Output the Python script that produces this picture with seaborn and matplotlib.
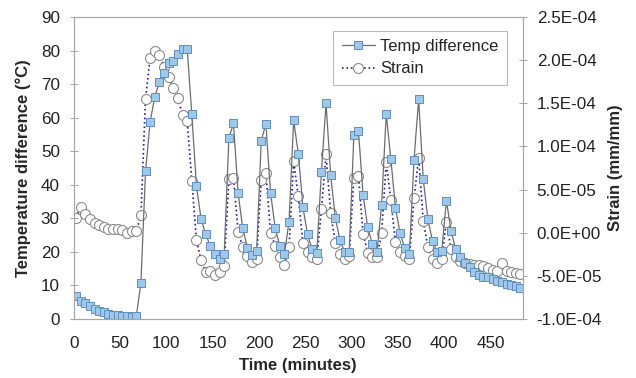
import numpy as np
import pandas as pd
import matplotlib
matplotlib.use("Agg")
import matplotlib.pyplot as plt
import seaborn as sns
from matplotlib.ticker import FuncFormatter

# Readings taken every 5 minutes
time_min = [
    2.5, 7.5, 12.5, 17.5, 22.5, 27.5, 32.5, 37.5, 42.5, 47.5,
    52.5, 57.5, 62.5, 67.5, 72.5, 77.5, 82.5, 87.5, 92.5, 97.5,
    102.5, 107.5, 112.5, 117.5, 122.5, 127.5, 132.5, 137.5, 142.5, 147.5,
    152.5, 157.5, 162.5, 167.5, 172.5, 177.5, 182.5, 187.5, 192.5, 197.5,
    202.5, 207.5, 212.5, 217.5, 222.5, 227.5, 232.5, 237.5, 242.5, 247.5,
    252.5, 257.5, 262.5, 267.5, 272.5, 277.5, 282.5, 287.5, 292.5, 297.5,
    302.5, 307.5, 312.5, 317.5, 322.5, 327.5, 332.5, 337.5, 342.5, 347.5,
    352.5, 357.5, 362.5, 367.5, 372.5, 377.5, 382.5, 387.5, 392.5, 397.5,
    402.5, 407.5, 412.5, 417.5, 422.5, 427.5, 432.5, 437.5, 442.5, 447.5,
    452.5, 457.5, 462.5, 467.5, 472.5, 477.5, 482.5,
]

# Temperature difference (deg C)
temp_diff = [
    6.9, 5.5, 4.7, 3.8, 3.0, 2.3, 2.0, 1.5, 1.2, 1.2,
    1.0, 0.8, 0.7, 0.8, 10.7, 44.0, 58.8, 66.2, 70.7, 73.4,
    76.4, 76.9, 78.9, 80.5, 80.5, 61.0, 39.6, 29.9, 25.2, 21.8,
    19.3, 17.8, 19.4, 53.8, 58.3, 37.5, 27.1, 21.2, 19.2, 20.2,
    53.2, 58.2, 37.7, 27.2, 21.8, 19.3, 29.0, 59.2, 49.3, 33.4,
    25.2, 20.8, 19.6, 43.9, 64.3, 42.8, 30.2, 23.5, 20.1, 20.0,
    54.7, 56.0, 37.0, 27.3, 22.4, 19.9, 34.0, 61.1, 47.6, 33.0,
    25.5, 21.2, 19.3, 47.4, 65.5, 41.6, 29.7, 23.2, 20.1, 20.4,
    35.3, 26.2, 20.9, 18.4, 16.8, 15.4, 13.9, 13.2, 12.6, 12.4,
    11.9, 11.4, 11.0, 10.4, 10.1, 9.8, 9.1,
]

# Strain (x1e-5 mm/mm)
strain_e5 = [
    1.74, 3.0, 2.17, 1.59, 1.16, 0.86, 0.66, 0.43, 0.45, 0.4,
    0.35, 0.0, 0.2, 0.2, 2.0, 15.5, 20.3, 21.1, 20.6, 19.2,
    18.0, 16.8, 15.6, 13.6, 12.9, 6.0, -0.84, -3.2, -4.6, -4.4,
    -4.9, -4.6, -3.9, 6.2, 6.4, 0.08, -1.7, -2.7, -3.4, -3.0,
    6.1, 6.9, 0.0, -1.5, -2.8, -3.7, -1.7, 8.3, 4.2, -1.2,
    -2.2, -2.8, -3.0, 2.7, 9.1, 2.25, -1.2, -2.5, -3.0, -2.7,
    6.4, 6.6, -0.15, -2.3, -2.8, -2.8, -0.07, 8.2, 3.8, -1.1,
    -2.2, -2.7, -3.0, 4.0, 8.7, 1.4, -1.7, -3.0, -3.5, -3.0,
    1.3, -1.9, -2.85, -3.3, -3.55, -3.65, -3.7, -3.7, -3.8, -4.1,
    -4.3, -4.4, -3.55, -4.4, -4.6, -4.7, -4.8,
]

df = pd.DataFrame({
    "time": time_min,
    "temp": temp_diff,
    "strain": np.array(strain_e5) * 1e-5,
})

sns.set_style("white")
plt.rcParams["font.family"] = ["Liberation Sans", "DejaVu Sans"]

fig = plt.figure(figsize=(6.36, 3.78), dpi=100)
ax = fig.add_axes([0.116, 0.156, 0.706, 0.799])
ax2 = ax.twinx()
# temperature squares sit on top of the strain circles
ax.set_zorder(ax2.get_zorder() + 1)
ax.patch.set_visible(False)

sns.lineplot(data=df, x="time", y="temp", ax=ax, color="#6d6d6d", linewidth=0.9,
             marker="s", markersize=5.5, markerfacecolor="#9dc8ea",
             markeredgecolor="#5f8fbf", markeredgewidth=0.7,
             label="Temp difference", legend=False)
sns.lineplot(data=df, x="time", y="strain", ax=ax2, color="#1f1fa0", linewidth=1.2,
             linestyle=":", marker="o", markersize=7.2, markerfacecolor="white",
             markeredgecolor="#8a8a8a", markeredgewidth=0.8,
             label="Strain", legend=False)

ax.set_xlim(0, 485)
ax.set_ylim(0, 90)
ax.set_yticks(range(0, 91, 10))
ax.set_xticks(range(0, 451, 50))
ax2.set_ylim(-1.0e-4, 2.5e-4)
ax2.set_yticks(np.arange(-1.0e-4, 2.51e-4, 0.5e-4))
ax2.yaxis.set_major_formatter(FuncFormatter(lambda v, p: f"{v:.1E}"))

ax.set_xlabel("Time (minutes)", fontsize=12, fontweight="bold", labelpad=5)
ax.set_ylabel("Temperature difference (°C)", fontsize=12, fontweight="bold", labelpad=7)
ax2.set_ylabel("Strain (mm/mm)", fontsize=12, fontweight="bold", labelpad=4)

for a in (ax, ax2):
    for sp in a.spines.values():
        sp.set_color("#a6a6a6")
        sp.set_linewidth(0.8)
    a.tick_params(direction="inout", length=6, width=0.7, color="#a6a6a6",
                  labelsize=12.3, labelcolor="#222222", pad=7)
    a.grid(False)
ax.tick_params(axis="x", pad=9)

h1, l1 = ax.get_legend_handles_labels()
h2, l2 = ax2.get_legend_handles_labels()
leg = ax.legend(h1 + h2, l1 + l2, loc="upper left", bbox_to_anchor=(0.578, 0.955),
                fontsize=12, frameon=True, fancybox=False, borderaxespad=0,
                handlelength=2.0, handletextpad=0.3, borderpad=0.5, labelspacing=0.45)
leg.get_frame().set_edgecolor("#a6a6a6")
leg.get_frame().set_linewidth(0.8)

fig.savefig("out.png", dpi=100)
